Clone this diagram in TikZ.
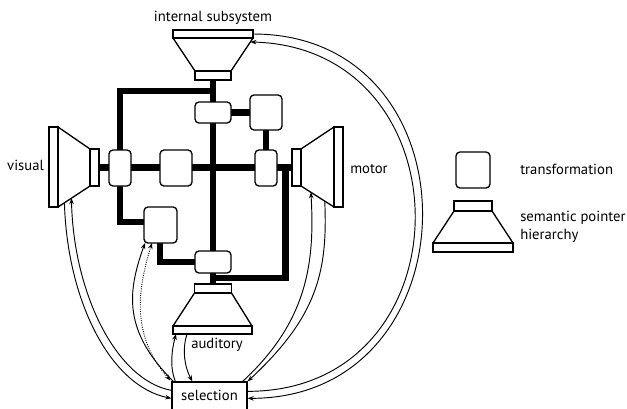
\documentclass[tikz,border=0pt]{standalone}
\usepackage{fontspec}
\setmainfont{PT Sans}
\usetikzlibrary{calc,arrows.meta,backgrounds}
\tikzset{
  bar/.style 2 args={draw, fill=white, line width=1pt, inner sep=0pt, outer sep=0pt,
     minimum width=#1*0.75pt, minimum height=#2*0.75pt},
  tbox/.style 2 args={draw, fill=white, line width=1pt, rounded corners=3pt, inner sep=0pt, outer sep=0pt,
     minimum width=#1*0.75pt, minimum height=#2*0.75pt},
  hier/.style={draw, fill=white, line width=1pt, line join=miter},
  bus/.style={line width=4.6pt, line cap=rect},
  arr/.style={line width=0.7pt, -{Stealth[length=4.5pt,width=3.4pt]}},
  darr/.style={line width=0.7pt, densely dotted, {Stealth[length=4.5pt,width=3.4pt]}-{Stealth[length=4.5pt,width=3.4pt]}},
  lbl/.style={font=\fontsize{11}{13.5}\selectfont, inner sep=0pt},
}
\begin{document}
\begin{tikzpicture}[x=0.75pt,y=-0.75pt]
\useasboundingbox (0,0) rectangle (627,408);

% hierarchies
\node[bar={80}{8}] (iw) at (213,34) {};
\node[bar={36}{9}] (in) at (213,75.5) {};
\node[bar={9}{80}] (vw) at (53.5,167) {};
\node[bar={9}{37}] (vn) at (94.5,167.5) {};
\node[bar={9}{37}] (mn) at (296.5,167.5) {};
\node[bar={9}{80}] (mw) at (338.5,167) {};
\node[bar={37}{9}] (an) at (213,288.5) {};
\node[bar={79}{8}] (aw) at (212.5,330) {};
\node[bar={38}{10}] (ln) at (473,206) {};
\node[bar={80}{9}] (lw) at (473,247.5) {};

% transformations
\node[tbox={22}{36}] (A) at (120,168) {};
\node[tbox={32}{36}] (B) at (176,168) {};
\node[tbox={22}{36}] (C) at (266,168) {};
\node[tbox={36}{21}] (D) at (213,112.5) {};
\node[tbox={32}{35}] (E) at (266,112.5) {};
\node[tbox={33}{36}] (F) at (160.5,225) {};
\node[tbox={36}{22}] (G) at (213,262) {};
\node[tbox={34}{36}] (LT) at (473,170) {};

% selection
\node[draw, line width=1pt, minimum width=75*0.75pt, minimum height=30*0.75pt, inner sep=0pt,
      font=\fontsize{11}{13.5}\selectfont] (sel) at (209.5,397) {\raisebox{2pt}{selection}};

\begin{scope}[on background layer]
  % trapezoids
  \path[hier] (iw.south west) -- (in.north west) -- (in.north east) -- (iw.south east) -- cycle;
  \path[hier] (vw.north east) -- (vn.north west) -- (vn.south west) -- (vw.south east) -- cycle;
  \path[hier] (mw.north west) -- (mn.north east) -- (mn.south east) -- (mw.south west) -- cycle;
  \path[hier] (aw.north west) -- (an.south west) -- (an.south east) -- (aw.north east) -- cycle;
  \path[hier] (lw.north west) -- (ln.south west) -- (ln.south east) -- (lw.north east) -- cycle;
  % buses
  \coordinate (tl) at (120,91);
  \coordinate (bl) at (120,222);
  \coordinate (rt) at (285.5,167.5);
  \coordinate (rb) at (285.5,278);
  \coordinate (fb) at (160,262);
  \draw[bus] (in.south) -- (an.north);
  \draw[bus] (in.south |- tl) -- (tl) -- (bl) -- (bl -| F.west);
  \draw[bus] (vn.east) -- (mn.west);
  \draw[bus] (D.east) -- (E.west);
  \draw[bus] (E.south) -- (C.north);
  \draw[bus] (rt) -- (rb) -- (rb -| an.north);
  \draw[bus] (F.south -| fb) -- (fb) -- (G.west |- fb);
\end{scope}

% connection points
\coordinate (iout) at (iw.east);
\coordinate (iin) at ($(iw.south east)!0.12!(in.north east)$);
\coordinate (vout) at ($(vw.south east)!0.2!(vn.south west)$);
\coordinate (vin) at ($(vw.south east)!0.42!(vn.south west)$);
\coordinate (min) at ($(mn.south east)!0.3!(mw.south west)$);
\coordinate (mout) at ($(mn.south east)!0.72!(mw.south west)$);

% big arc: internal <-> selection
\draw[arr] (iout) .. controls +(229,0) and +(229,0) .. ($(sel.north east)+(0,17)$);
\draw[arr] ($(sel.north east)+(0,10)$) .. controls +(222,0) and +(220,6) .. (iin);
% visual <-> selection
\draw[arr] (vout) .. controls +(3,100) and +(-60,-12) .. ($(sel.north west)+(0,17)$);
\draw[arr] ($(sel.north west)+(0,9)$) .. controls +(-55,-10) and +(2,95) .. (vin);
% motor <-> selection
\draw[arr] ($(sel.north east)+(-5,0)$) .. controls +(65,-60) and +(4,70) .. (min);
\draw[arr] (mout) .. controls +(3,70) and +(70,-65) .. (sel.north east);
% F <-> selection
\draw[arr] ($(sel.north west)+(2,0)$) .. controls +(-50,-50) and +(-18,50) .. ($(F.south west)+(1,0)$);
\draw[darr] ($(F.south west)+(8,0)$) .. controls +(-14,45) and +(-40,-45) .. ($(sel.north west)+(-1,-1)$);
% auditory <-> selection
\draw[arr] ($(sel.north west)+(4,0)$) .. controls +(-6,-15) and +(-4,15) .. ($(aw.south west)+(3,0)$);
\draw[arr] ($(aw.south west)+(14,0)$) .. controls +(-5,15) and +(-8,-15) .. ($(sel.north west)+(21,0)$);

% labels
\node[lbl] (tis) at (213,18) {internal subsystem};
\node[lbl] (tvis) at (25.5,165) {visual};
\node[lbl] (tmot) at (369,169) {motor};
\node[lbl] (taud) at (217,345) {auditory};
\node[lbl, anchor=west] (ttr) at (520,169) {transformation};
\node[lbl, anchor=west, align=left] (tsp) at (520,227) {semantic pointer\\hierarchy};
\end{tikzpicture}
\end{document}
